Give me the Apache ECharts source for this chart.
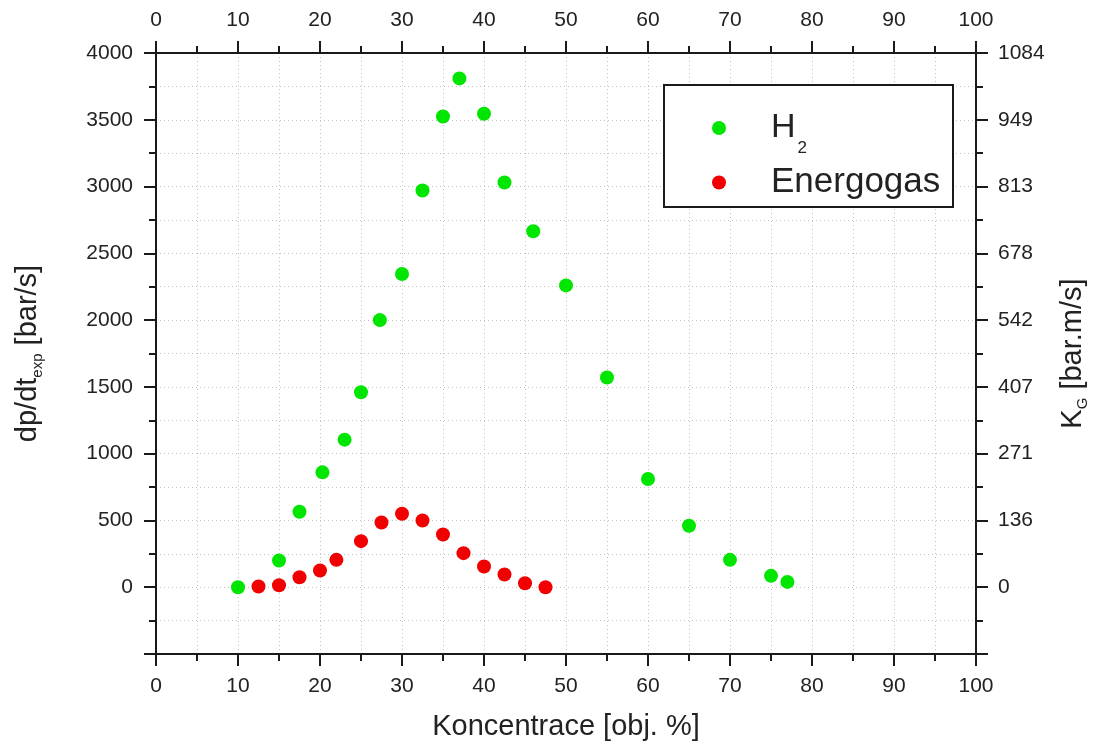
<!DOCTYPE html>
<html>
<head>
<meta charset="utf-8">
<script src="https://cdn.jsdelivr.net/npm/echarts@6/dist/echarts.min.js"></script>
<style>html,body{margin:0;padding:0;background:#fff}#c{width:1104px;height:751px}</style>
</head>
<body>
<div id="c"></div>
<script>
// ---- data ----
const h2Conc = [10, 15, 17.5, 20.3, 23, 25, 27.3, 30, 32.5, 35, 37, 40, 42.5, 46, 50, 55, 60, 65, 70, 75, 77];
const h2Rate = [0, 200, 565, 860, 1105, 1460, 2000, 2345, 2970, 3525, 3810, 3545, 3030, 2665, 2260, 1570, 810, 460, 205, 85, 40];
const egConc = [12.5, 15, 17.5, 20, 22, 25, 27.5, 30, 32.5, 35, 37.5, 40, 42.5, 45, 47.5];
const egRate = [5, 15, 75, 125, 205, 345, 485, 550, 500, 395, 255, 155, 95, 30, 0];
const seriesNames = ['H2', 'Energogas'];
const dpTicks = [0, 500, 1000, 1500, 2000, 2500, 3000, 3500, 4000];
const kgTicks = ['0', '136', '271', '407', '542', '678', '813', '949', '1084'];

const FONT = '"Liberation Sans", Arial, sans-serif';
const INK = '#1a1a1a';
const TXT = '#222222';
const gridLine = { show: true, lineStyle: { color: '#c2c2c2', width: 1, type: [1, 3] } };

function axisBase() {
  return {
    axisLine: { show: true, onZero: false, lineStyle: { color: INK, width: 2 } },
    axisTick: { show: true, inside: false, length: 12, lineStyle: { color: INK, width: 2 } },
    minorTick: { show: true, splitNumber: 2, length: 7, lineStyle: { color: INK, width: 2 } },
    axisLabel: { color: TXT, fontSize: 21, fontFamily: FONT },
    splitLine: { show: false },
    minorSplitLine: { show: false }
  };
}

const xBottom = Object.assign(axisBase(), {
  type: 'value', position: 'bottom', min: 0, max: 100, interval: 10,
  name: 'Koncentrace [obj. %]', nameLocation: 'middle', nameGap: 58,
  nameTextStyle: { color: TXT, fontSize: 29, fontFamily: FONT }
});
xBottom.axisLabel.margin = 22;
xBottom.splitLine = gridLine;
xBottom.minorSplitLine = gridLine;

const xTop = Object.assign(axisBase(), {
  type: 'value', position: 'top', min: 0, max: 100, interval: 10
});
xTop.axisLabel.margin = 22;

const yLeft = Object.assign(axisBase(), {
  type: 'value', position: 'left', min: -500, max: 4000, interval: 500,
  name: '{a|dp/dt}{b|exp}{a| [bar/s]}', nameLocation: 'middle', nameGap: 111, nameRotate: 90,
  nameTextStyle: {
    color: TXT, fontFamily: FONT,
    rich: {
      a: { fontSize: 29, lineHeight: 34, fontFamily: FONT, color: TXT },
      b: { fontSize: 15, lineHeight: 13, verticalAlign: 'bottom', fontFamily: FONT, color: TXT }
    }
  }
});
yLeft.axisLabel.margin = 23;
yLeft.axisLabel.formatter = function (v) { const i = dpTicks.indexOf(v); return i < 0 ? '' : String(dpTicks[i]); };
yLeft.splitLine = gridLine;
yLeft.minorSplitLine = gridLine;

const yRight = Object.assign(axisBase(), {
  type: 'value', position: 'right', min: -500, max: 4000, interval: 500,
  name: '{a|K}{b|G}{a| [bar.m/s]}', nameLocation: 'middle', nameGap: 80, nameRotate: 90,
  nameTextStyle: {
    color: TXT, fontFamily: FONT,
    rich: {
      a: { fontSize: 29, lineHeight: 34, fontFamily: FONT, color: TXT },
      b: { fontSize: 15, lineHeight: 13, verticalAlign: 'bottom', fontFamily: FONT, color: TXT }
    }
  }
});
yRight.axisLabel.margin = 22;
yRight.axisLabel.formatter = function (v) { const i = dpTicks.indexOf(v); return i < 0 ? '' : kgTicks[i]; };

const chart = echarts.init(document.getElementById('c'), null, { renderer: 'canvas' });
chart.setOption({
  animation: false,
  backgroundColor: '#ffffff',
  grid: { left: 156, right: 128, top: 53, bottom: 97, containLabel: false },
  xAxis: [xBottom, xTop],
  yAxis: [yLeft, yRight],
  graphic: [{
    type: 'rect', z: 3, silent: true,
    shape: { x: 664, y: 85, width: 289, height: 122 },
    style: { fill: '#ffffff', stroke: INK, lineWidth: 2 }
  }],
  legend: [{
    data: [seriesNames[0]], orient: 'vertical', left: 712, top: 98, padding: 0, z: 6,
    icon: 'circle', itemWidth: 14, itemHeight: 14,
    formatter: function () { return '{m|H}{s|2}'; },
    textStyle: {
      color: TXT, fontFamily: FONT,
      rich: {
        m: { fontSize: 34, lineHeight: 60, padding: [0, 0, 0, 40], fontFamily: FONT, color: TXT },
        s: { fontSize: 17, lineHeight: 20, verticalAlign: 'top', padding: [42, 0, 0, 2], fontFamily: FONT, color: TXT }
      }
    }
  }, {
    data: [seriesNames[1]], orient: 'vertical', left: 712, top: 165, padding: 0, z: 6,
    icon: 'circle', itemWidth: 14, itemHeight: 14,
    formatter: function (n) { return '{m|' + n + '}'; },
    textStyle: {
      color: TXT, fontFamily: FONT,
      rich: { m: { fontSize: 35, lineHeight: 40, padding: [0, 0, 0, 40], fontFamily: FONT, color: TXT } }
    }
  }],
  series: [{
    name: seriesNames[0], type: 'scatter', xAxisIndex: 0, yAxisIndex: 0,
    symbol: 'circle', symbolSize: 14,
    itemStyle: { color: '#00e600', opacity: 1 },
    data: h2Conc.map((x, i) => [x, h2Rate[i]])
  }, {
    name: seriesNames[1], type: 'scatter', xAxisIndex: 0, yAxisIndex: 0,
    symbol: 'circle', symbolSize: 14,
    itemStyle: { color: '#f00000', opacity: 1 },
    data: egConc.map((x, i) => [x, egRate[i]])
  }]
});
</script>
</body>
</html>
